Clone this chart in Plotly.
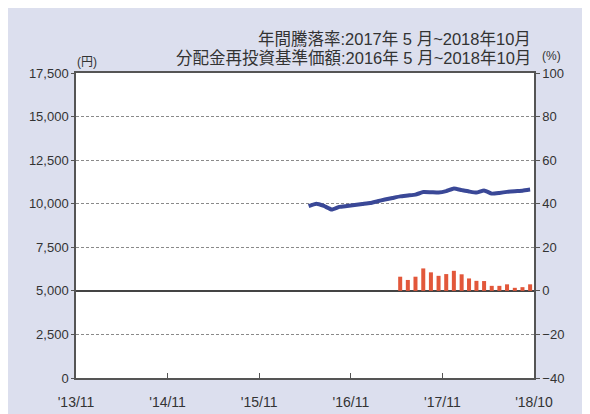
import plotly.graph_objects as go

# ---- data ----
nav_months = [
    "2016-05", "2016-06", "2016-07", "2016-08", "2016-09", "2016-10",
    "2016-11", "2016-12", "2017-01", "2017-02", "2017-03", "2017-04",
    "2017-05", "2017-06", "2017-07", "2017-08", "2017-09", "2017-10",
    "2017-11", "2017-12", "2018-01", "2018-02", "2018-03", "2018-04",
    "2018-05", "2018-06", "2018-07", "2018-08", "2018-09", "2018-10",
]
nav_values = [
    9860, 10000, 9870, 9670, 9820, 9870,
    9920, 9980, 10040, 10140, 10240, 10330,
    10420, 10470, 10520, 10670, 10660, 10640,
    10720, 10870, 10780, 10700, 10640, 10760,
    10580, 10620, 10680, 10720, 10750, 10810,
]
ret_months = [
    "2017-05", "2017-06", "2017-07", "2017-08", "2017-09", "2017-10",
    "2017-11", "2017-12", "2018-01", "2018-02", "2018-03", "2018-04",
    "2018-05", "2018-06", "2018-07", "2018-08", "2018-09", "2018-10",
]
ret_values = [
    6.5, 5.0, 6.5, 10.3, 8.5, 6.9,
    7.7, 9.2, 7.6, 5.7, 4.6, 4.5,
    2.3, 2.3, 3.0, 1.4, 1.7, 3.0,
]
x_tick_dates = ["2013-11-01", "2014-11-01", "2015-11-01", "2016-11-01", "2017-11-01", "2018-11-01"]
x_tick_labels = ["'13/11", "'14/11", "'15/11", "'16/11", "'17/11", "'18/10"]
left_ticks = [0, 2500, 5000, 7500, 10000, 12500, 15000, 17500]
right_ticks = [-40, -20, 0, 20, 40, 60, 80, 100]
title_line1 = "年間騰落率:2017年 5 月~2018年10月"
title_line2 = "分配金再投資基準価額:2016年 5 月~2018年10月"

# ---- layout constants ----
W, H = 590, 414
L, R, T, B = 68, 64, 65, 44
PW, PH = W - L - R, H - T - B
OFF = 8  # page body margin
BG = "#dcdfee"
TXT = "#333333"
AX = "#555555"
TICKFONT = dict(family="Liberation Sans, Arial, sans-serif", size=13, color=TXT)
XTICKFONT = dict(family="Liberation Sans, Arial, sans-serif", size=14, color=TXT)


def px_x(sx):
    return (sx - OFF - L) / PW


def px_y(sy):
    return (H - B - (sy - OFF)) / PH


fig = go.Figure()
fig.add_trace(go.Bar(
    x=ret_months, y=ret_values, yaxis="y2",
    xperiod="M1", xperiodalignment="middle",
    marker=dict(color="#e2573a", line=dict(width=0)),
    width=16 * 86400000, showlegend=False,
))
fig.add_trace(go.Scatter(
    x=nav_months, y=nav_values, yaxis="y",
    xperiod="M1", xperiodalignment="middle",
    mode="lines", line=dict(color="#3a4897", width=4, shape="spline", smoothing=0.4),
    showlegend=False,
))

fig.update_layout(
    width=W, height=H,
    margin=dict(l=L, r=R, t=T, b=B, autoexpand=False),
    paper_bgcolor=BG, plot_bgcolor="white",
    xaxis=dict(
        type="date", range=["2013-11-01", "2018-11-01"],
        tickvals=x_tick_dates, ticktext=x_tick_labels,
        ticks="inside", ticklen=5, tickcolor=AX, tickwidth=1,
        ticklabelstandoff=10,
        showline=True, linecolor=AX, linewidth=1.5, mirror=True,
        showgrid=False, zeroline=False, tickfont=XTICKFONT,
    ),
    yaxis=dict(
        range=[0, 17500], tickvals=left_ticks, tickformat=",",
        ticks="outside", ticklen=3, tickcolor=AX,
        showline=True, linecolor=AX, linewidth=1.5,
        showgrid=True, gridcolor="#8a8a8a", gridwidth=1, griddash="3px,2px",
        zeroline=False, tickfont=TICKFONT,
    ),
    yaxis2=dict(
        range=[-40, 100], tickvals=right_ticks, overlaying="y", side="right",
        ticks="outside", ticklen=4, tickcolor=AX,
        showline=True, linecolor=AX, linewidth=1.5,
        showgrid=False, zeroline=True, zerolinecolor="#444444", zerolinewidth=1.5,
        tickfont=TICKFONT,
    ),
    bargap=0.45,
    font=dict(family="Liberation Sans, Noto Sans CJK JP, sans-serif", color=TXT),
)

TITLEFONT = dict(family="Liberation Sans, Noto Sans CJK JP, sans-serif", size=16.5, color=TXT)
fig.add_annotation(text=title_line1, xref="paper", yref="paper", x=px_x(533), y=px_y(39),
                   xanchor="right", yanchor="middle", showarrow=False, font=TITLEFONT)
fig.add_annotation(text=title_line2, xref="paper", yref="paper", x=px_x(533), y=px_y(58),
                   xanchor="right", yanchor="middle", showarrow=False, font=TITLEFONT)
UNITFONT = dict(family="Liberation Sans, Noto Sans CJK JP, sans-serif", size=12, color=TXT)
fig.add_annotation(text="(円)", xref="paper", yref="paper", x=px_x(87), y=px_y(62),
                   xanchor="center", yanchor="middle", showarrow=False, font=UNITFONT)
fig.add_annotation(text="(%)", xref="paper", yref="paper", x=px_x(551), y=px_y(56),
                   xanchor="center", yanchor="middle", showarrow=False, font=UNITFONT)

fig.write_html("out.html")
